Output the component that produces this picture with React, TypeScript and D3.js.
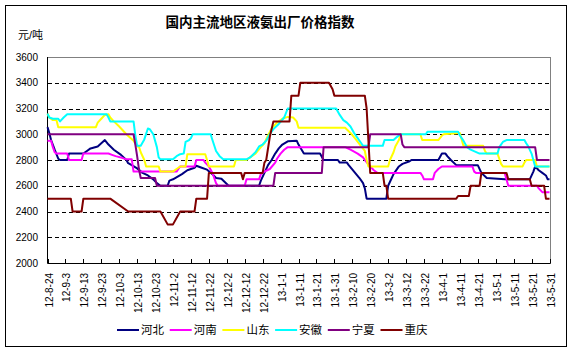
import { useEffect, useRef } from "react";
import * as d3 from "d3";

const title = "国内主流地区液氨出厂价格指数";
const unitLabel = "元/吨";
const firstDay = "12-8-24";
const lastDay = "13-5-31";
const tickLabels = [
  "12-8-24", "12-9-3", "12-9-13", "12-9-23", "12-10-3", "12-10-13", "12-10-23",
  "12-11-2", "12-11-12", "12-11-22", "12-12-2", "12-12-12", "12-12-22", "13-1-1",
  "13-1-11", "13-1-21", "13-1-31", "13-2-10", "13-2-20", "13-3-2", "13-3-12",
  "13-3-22", "13-4-1", "13-4-11", "13-4-21", "13-5-1", "13-5-11", "13-5-21", "13-5-31",
];
const yTicks = [2000, 2200, 2400, 2600, 2800, 3000, 3200, 3400, 3600];
const names = ["河北", "河南", "山东", "安徽", "宁夏", "重庆"];
const colors = ["#000080", "#ff00ff", "#ffff00", "#00ffff", "#800080", "#800000"];

// [days after 12-8-24, price]
const hebei = [
  [0, 3055], [1, 3010], [2, 2955], [4, 2880], [6, 2810], [7, 2800], [11, 2800], [12, 2850],
  [20, 2850], [22, 2870], [24, 2890], [28, 2905], [30, 2930], [32, 2955], [34, 2920], [37, 2880],
  [41, 2840], [44, 2800], [45, 2775], [47, 2760], [50, 2735], [53, 2700], [56, 2680], [59, 2650],
  [61, 2620], [63, 2600], [67, 2600], [68, 2640], [70, 2650], [75, 2690], [78, 2720], [82, 2740],
  [83, 2755], [86, 2740], [89, 2725], [92, 2690], [94, 2660], [97, 2655], [101, 2600], [118, 2600],
  [119, 2640], [121, 2700], [123, 2760], [125, 2800], [127, 2850], [129, 2890], [131, 2920],
  [134, 2945], [139, 2950], [140, 2920], [143, 2850], [152, 2850], [154, 2800], [162, 2800],
  [163, 2780], [167, 2780], [168, 2760], [171, 2710], [174, 2660], [176, 2620], [177, 2580],
  [178, 2500], [189, 2500], [190, 2600], [192, 2660], [193, 2690], [196, 2750], [198, 2770],
  [202, 2790], [203, 2800], [218, 2800], [220, 2850], [222, 2850], [223, 2830], [225, 2800],
  [228, 2760], [240, 2760], [242, 2700], [245, 2660], [255, 2650], [269, 2650], [271, 2710],
  [272, 2750], [274, 2720], [276, 2700], [278, 2680], [279, 2650], [280, 2650],
];
const henan = [
  [0, 2950], [2, 2950], [3, 2900], [4, 2860], [5, 2850], [11, 2850], [12, 2800], [19, 2800],
  [20, 2850], [34, 2850], [36, 2840], [38, 2830], [42, 2815], [44, 2805], [47, 2805], [48, 2710],
  [72, 2710], [73, 2730], [74, 2750], [82, 2750], [83, 2800], [87, 2800], [88, 2780], [90, 2750],
  [92, 2700], [93, 2660], [94, 2620], [95, 2600], [110, 2600], [111, 2650], [118, 2650],
  [119, 2690], [121, 2710], [124, 2730], [127, 2780], [128, 2810], [130, 2850], [132, 2880],
  [134, 2900], [166, 2900], [169, 2880], [173, 2850], [176, 2820], [177, 2800], [180, 2750],
  [182, 2720], [184, 2700], [208, 2700], [209, 2680], [210, 2650], [215, 2650], [216, 2700],
  [218, 2730], [220, 2750], [237, 2750], [238, 2710], [239, 2700], [255, 2700], [256, 2650],
  [257, 2600], [273, 2600], [274, 2580], [276, 2550], [280, 2550],
];
const shandong = [
  [0, 3160], [1, 3130], [3, 3110], [5, 3110], [6, 3055], [27, 3055], [28, 3090], [30, 3120],
  [32, 3150], [34, 3155], [35, 3130], [37, 3100], [40, 3060], [44, 3000], [48, 2950], [50, 2905],
  [51, 2905], [52, 2860], [54, 2800], [55, 2750], [62, 2750], [63, 2710], [70, 2710], [72, 2730],
  [74, 2750], [77, 2750], [78, 2845], [88, 2845], [89, 2800], [90, 2750], [104, 2750], [105, 2800],
  [111, 2800], [113, 2820], [116, 2850], [119, 2900], [121, 2930], [123, 2990], [125, 3045],
  [128, 3090], [131, 3120], [134, 3135], [137, 3130], [139, 3100], [140, 3050], [166, 3050],
  [169, 3010], [172, 2960], [175, 2905], [177, 2870], [178, 2800], [179, 2750], [190, 2750],
  [191, 2800], [193, 2860], [194, 2905], [196, 2955], [197, 3000], [208, 3000], [209, 2955],
  [218, 2955], [220, 2990], [221, 3000], [230, 3010], [231, 2960], [232, 2910], [243, 2910],
  [244, 2870], [245, 2850], [251, 2850], [252, 2810], [253, 2770], [254, 2750], [265, 2750],
  [266, 2780], [267, 2800], [272, 2800], [273, 2750], [280, 2750],
];
const anhui = [
  [0, 3160], [1, 3130], [3, 3120], [6, 3120], [7, 3100], [9, 3130], [11, 3155], [33, 3155],
  [34, 3130], [35, 3100], [48, 3100], [49, 2990], [50, 2910], [52, 2910], [54, 2960], [56, 3045],
  [57, 3040], [59, 3000], [61, 2900], [62, 2820], [63, 2805], [70, 2805], [72, 2830], [74, 2845],
  [76, 2850], [77, 2940], [79, 2955], [80, 2970], [81, 3000], [91, 3000], [92, 2955], [94, 2870],
  [96, 2830], [98, 2805], [111, 2805], [113, 2820], [116, 2860], [118, 2905], [120, 2920],
  [122, 2950], [124, 3000], [126, 3040], [129, 3080], [132, 3130], [134, 3200], [161, 3200],
  [163, 3150], [165, 3110], [167, 3090], [169, 3060], [171, 3010], [173, 2970], [175, 2930],
  [176, 2910], [187, 2910], [188, 2955], [193, 2955], [195, 2980], [197, 3000], [211, 3000],
  [212, 3020], [229, 3020], [230, 2990], [232, 2950], [234, 2900], [236, 2880], [241, 2850],
  [251, 2850], [252, 2900], [254, 2940], [256, 2955], [266, 2955], [267, 2930], [268, 2910],
  [270, 2850], [272, 2750], [280, 2750],
];
const ningxia = [
  [0, 3000], [48, 3000], [49, 2920], [50, 2830], [51, 2730], [52, 2660], [60, 2660], [61, 2600],
  [126, 2600], [127, 2700], [153, 2700], [154, 2900], [179, 2900], [180, 3000], [197, 3000],
  [198, 2920], [199, 2900], [272, 2900], [273, 2800], [280, 2800],
];
const chongqing = [
  [0, 2500], [13, 2500], [14, 2400], [19, 2400], [20, 2500], [35, 2500], [45, 2400], [63, 2400],
  [67, 2300], [70, 2300], [74, 2400], [82, 2400], [83, 2500], [89, 2500], [90, 2700], [108, 2700],
  [109, 2650], [110, 2700], [120, 2700], [121, 2780], [122, 2800], [124, 2980], [126, 3100],
  [135, 3100], [136, 3300], [140, 3300], [141, 3400], [157, 3400], [159, 3350], [160, 3300],
  [177, 3300], [178, 3200], [179, 2950], [180, 2700], [187, 2700], [188, 2600], [189, 2600],
  [190, 2500], [228, 2500], [229, 2520], [235, 2520], [236, 2600], [241, 2600], [242, 2700],
  [256, 2700], [257, 2650], [269, 2650], [270, 2600], [277, 2600], [278, 2500], [280, 2500],
];
const series = [hebei, henan, shandong, anhui, ningxia, chongqing];

const W = 573;
const H = 353;
const FONT = "Arial, 'Liberation Sans', 'Noto Sans CJK SC', sans-serif";

export default function App() {
  const svgRef = useRef<SVGSVGElement>(null);

  useEffect(() => {
    if (!svgRef.current) return;
    const svg = d3.select(svgRef.current);
    svg.selectAll("*").remove();

    const parse = d3.timeParse("%y-%m-%d");
    const start = parse(firstDay) as Date;
    const plot = { left: 47.5, right: 549.5, top: 57, bottom: 263 };

    const x = d3.scaleTime()
      .domain([start, parse(lastDay) as Date])
      .range([plot.left, plot.right]);
    const y = d3.scaleLinear()
      .domain([2000, 3600])
      .range([plot.bottom, plot.top]);

    svg.append("rect").attr("width", W).attr("height", H).attr("fill", "#fff");
    svg.append("rect")
      .attr("x", 5.5).attr("y", 5.5).attr("width", 561).attr("height", 341)
      .attr("fill", "none").attr("stroke", "#000");

    // title + unit
    svg.append("text")
      .attr("x", 260).attr("y", 27)
      .attr("text-anchor", "middle")
      .attr("font-size", 13.5).attr("font-weight", "bold")
      .attr("font-family", FONT)
      .text(title);
    svg.append("text")
      .attr("x", 18).attr("y", 39)
      .attr("font-size", 11).attr("font-family", FONT)
      .text(unitLabel);

    // plot frame
    svg.append("rect")
      .attr("x", plot.left).attr("y", plot.top + 0.5)
      .attr("width", plot.right - plot.left + 1).attr("height", plot.bottom - plot.top)
      .attr("fill", "none").attr("stroke", "#808080");

    // gridlines
    svg.append("g")
      .selectAll("line")
      .data(yTicks.filter(v => v > 2000 && v < 3600))
      .join("line")
      .attr("x1", plot.left).attr("x2", plot.right + 1)
      .attr("y1", d => Math.round(y(d)) + 0.5).attr("y2", d => Math.round(y(d)) + 0.5)
      .attr("stroke", "#000").attr("stroke-dasharray", "4,3")
      .attr("shape-rendering", "crispEdges");

    // y labels
    svg.append("g")
      .selectAll("text")
      .data(yTicks)
      .join("text")
      .attr("x", 38).attr("y", d => y(d))
      .attr("dy", "0.35em")
      .attr("text-anchor", "end")
      .attr("font-size", 10).attr("font-family", FONT)
      .text(d => d);

    // axes
    svg.append("line")
      .attr("x1", plot.left).attr("x2", plot.left)
      .attr("y1", plot.top).attr("y2", plot.bottom)
      .attr("stroke", "#000");
    svg.append("line")
      .attr("x1", plot.left).attr("x2", plot.right + 1)
      .attr("y1", plot.bottom + 0.5).attr("y2", plot.bottom + 0.5)
      .attr("stroke", "#000");

    // x ticks + labels
    const xt = svg.append("g")
      .selectAll("g")
      .data(tickLabels)
      .join("g")
      .attr("transform", d => `translate(${Math.round(x(parse(d) as Date)) + 0.5},0)`);
    xt.append("line")
      .attr("y1", plot.bottom - 4).attr("y2", plot.bottom)
      .attr("stroke", "#000");
    xt.append("text")
      .attr("transform", "translate(1,273) rotate(-90)")
      .attr("dy", "0.35em")
      .attr("text-anchor", "end")
      .attr("font-size", 10).attr("font-family", FONT)
      .text(d => d);

    // series lines
    const line = d3.line<number[]>()
      .x(d => x(d3.timeDay.offset(start, d[0])))
      .y(d => y(d[1]));

    svg.append("g")
      .selectAll("path")
      .data(series)
      .join("path")
      .attr("fill", "none")
      .attr("stroke", (_, i) => colors[i])
      .attr("stroke-width", 2)
      .attr("stroke-linejoin", "round")
      .attr("d", d => line(d));

    // legend
    const legend = svg.append("g")
      .selectAll("g")
      .data(names)
      .join("g")
      .attr("transform", (_, i) => `translate(${117 + i * 52.7},330)`);
    legend.append("line")
      .attr("x1", 0).attr("x2", 22)
      .attr("stroke", (_, i) => colors[i])
      .attr("stroke-width", 2);
    legend.append("text")
      .attr("x", 24).attr("dy", "0.35em")
      .attr("font-size", 11.5).attr("font-family", FONT)
      .text(d => d);
  }, []);

  return (
    <svg
      ref={svgRef}
      width={W}
      height={H}
      viewBox={`0 0 ${W} ${H}`}
      style={{ position: "fixed", left: 0, top: 0 }}
    />
  );
}
